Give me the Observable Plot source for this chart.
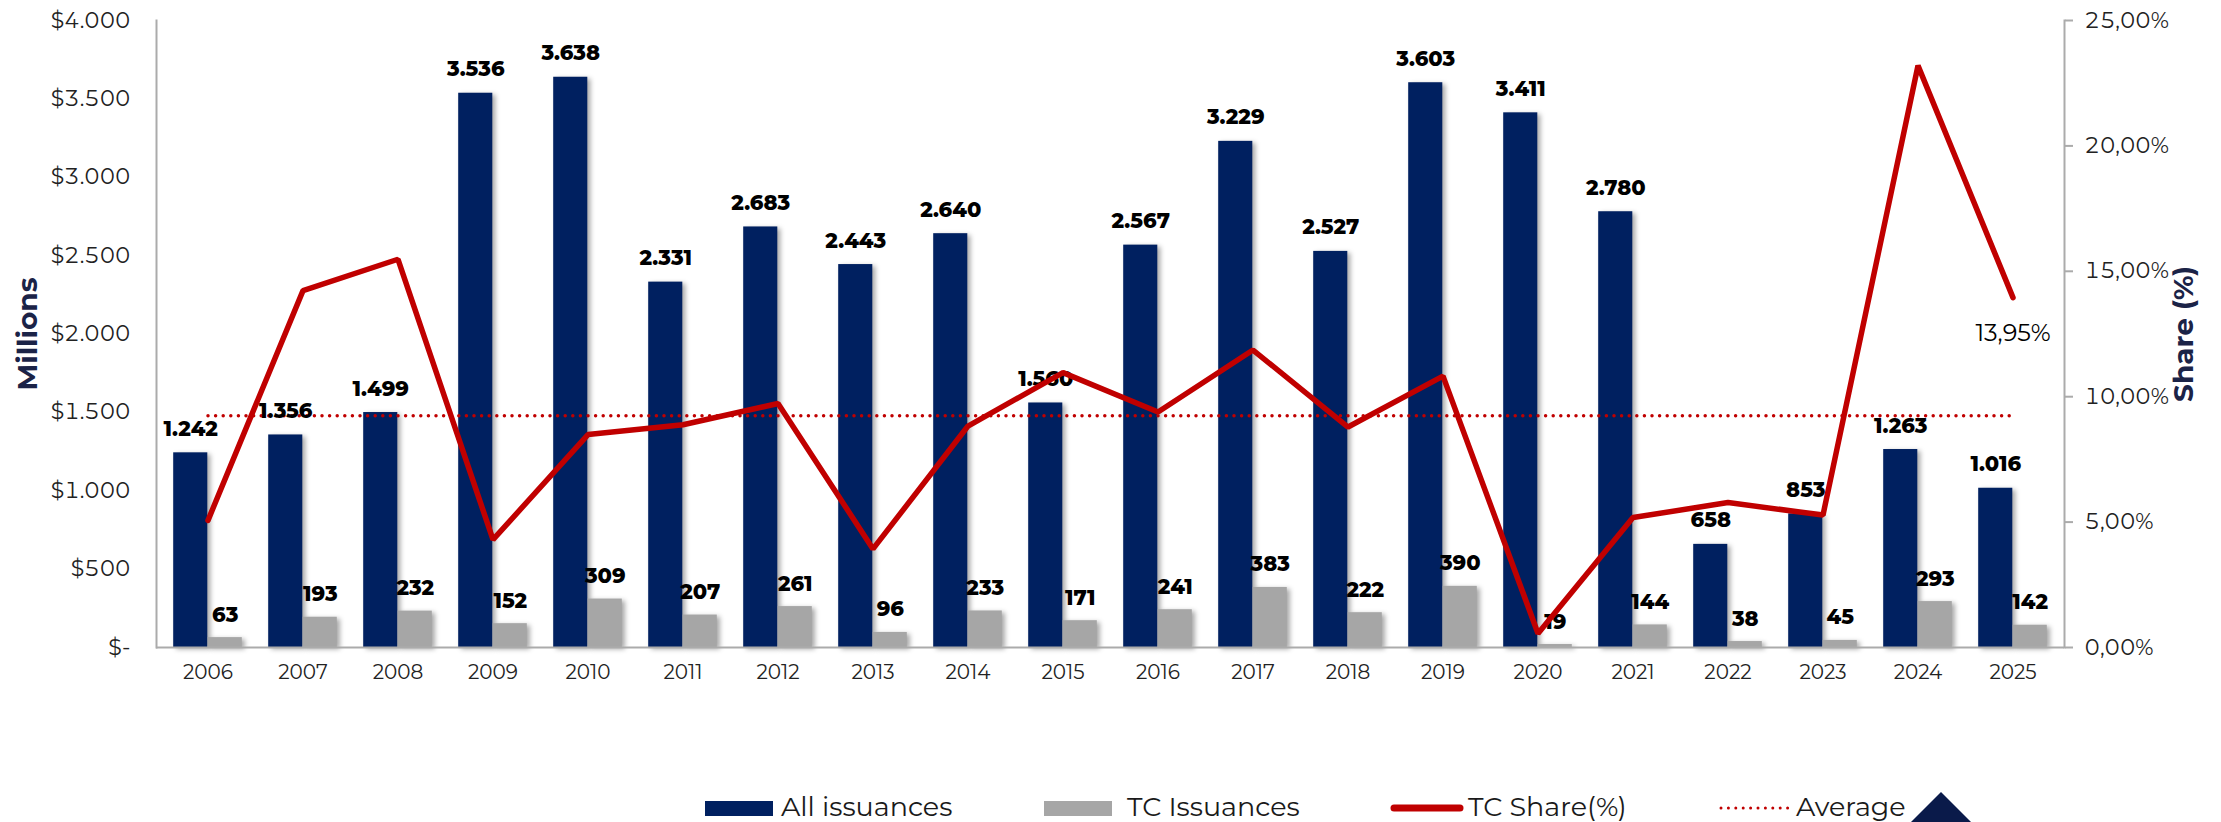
<!DOCTYPE html>
<html>
<head>
<meta charset="utf-8">
<script src="https://cdn.jsdelivr.net/npm/d3@7"></script>
<script src="https://cdn.jsdelivr.net/npm/@observablehq/plot@0.6"></script>
<style>
html, body { margin: 0; padding: 0; background: #fff; overflow: hidden; }
#chart { width: 2221px; height: 822px; position: relative; }
#chart svg { display: block; }
</style>
</head>
<body>
<div id="chart"></div>
<script>
// ---- data ----
const years = ["2006","2007","2008","2009","2010","2011","2012","2013","2014","2015","2016","2017","2018","2019","2020","2021","2022","2023","2024","2025"];
const allIssuances = [1242,1356,1499,3536,3638,2331,2683,2443,2640,1560,2567,3229,2527,3603,3411,2780,658,853,1263,1016];
const tcIssuances = [63,193,232,152,309,207,261,96,233,171,241,383,222,390,19,144,38,45,293,142];
const tcShare = [5.07,14.23,15.48,4.30,8.49,8.88,9.73,3.93,8.83,10.96,9.39,11.86,8.79,10.82,0.56,5.18,5.78,5.28,23.20,13.95];
const averageShare = 9.24;
const leftTicks = [0,500,1000,1500,2000,2500,3000,3500,4000];
const rightTicks = [0,5,10,15,20,25];
const leftMax = 4000, rightMax = 25;
const legendLabels = ["All issuances","TC Issuances","TC Share(%)","Average"];

// ---- layout ----
const W = 2221, H = 760, mL = 156, mR = 157, mT = 20, mB = 113;
const bw = (W - mL - mR) / years.length;
const barW = 34.5;
const K = leftMax / rightMax;
const navy = "#002060", gray = "#A6A6A6", red = "#C00000", axisGray = "#ABABAB", titleNavy = "#1B2347";
const font = "Montserrat, 'Open Sans', sans-serif";

const loc = d3.formatLocale({decimal: ",", thousands: ".", grouping: [3], currency: ["$", ""]});
const fmtInt = loc.format(",d");
const fmtPct = loc.format(".2f");

const rows = years.map((year, i) => ({year, all: allIssuances[i], tc: tcIssuances[i], share: tcShare[i]}));
const last = rows[rows.length - 1];

const plot = Plot.plot({
  width: W, height: H,
  marginLeft: mL, marginRight: mR, marginTop: mT, marginBottom: mB,
  style: {fontFamily: font, background: "#fff", overflow: "visible"},
  x: {type: "band", domain: years, padding: 0, label: null},
  y: {domain: [0, leftMax], label: null},
  marks: [
    Plot.barY(rows, {x: "year", y: "all", fill: navy, insetLeft: bw / 2 - barW, insetRight: bw / 2}),
    Plot.barY(rows, {x: "year", y: "tc", fill: gray, insetLeft: bw / 2, insetRight: bw / 2 - barW}),
    Plot.ruleY([0], {stroke: axisGray, strokeWidth: 2}),
    Plot.frame({anchor: "left", stroke: axisGray, strokeWidth: 2}),
    Plot.frame({anchor: "right", stroke: axisGray, strokeWidth: 2}),
    Plot.axisY(leftTicks, {anchor: "left", tickSize: 0, tickPadding: 26, fontSize: 22, fill: "#222",
      tickFormat: d => d === 0 ? "$-" : "$" + fmtInt(d)}),
    Plot.axisY(rightTicks.map(p => p * K), {anchor: "right", tickSize: 8, tickPadding: 12, stroke: axisGray, strokeWidth: 2,
      fontSize: 22, fill: "#222", tickFormat: d => fmtPct(d / K) + "%"}),
    Plot.axisX({tickSize: 0, tickPadding: 17, fontSize: 20, fill: "#222"}),
    Plot.line(rows, {x: "year", y: () => averageShare * K, stroke: red, strokeWidth: 3.5, strokeDasharray: "0 7.6", strokeLinecap: "round"}),
    Plot.text(rows, {x: "year", y: "all", text: d => fmtInt(d.all), dx: -barW / 2, dy: -17, lineAnchor: "bottom",
      fontSize: 21, fontWeight: 800, fill: "#000"}),
    Plot.text(rows, {x: "year", y: "tc", text: d => fmtInt(d.tc), dx: barW / 2, dy: -16, lineAnchor: "bottom",
      fontSize: 21, fontWeight: 800, fill: "#000"}),
    Plot.line(rows, {x: "year", y: d => d.share * K, stroke: red, strokeWidth: 5.5, strokeLinecap: "round", strokeLinejoin: "miter"}),
    Plot.text([last], {x: "year", y: d => d.share * K, text: d => fmtPct(d.share) + "%", dy: 36, fontSize: 24, fill: "#000"}),
    Plot.text(["Millions"], {frameAnchor: "left", textAnchor: "middle", dx: -128.5, rotate: -90, fontSize: 28, fontWeight: 700, fill: titleNavy}),
    Plot.text(["Share (%)"], {frameAnchor: "right", textAnchor: "middle", dx: 120, rotate: -90, fontSize: 28, fontWeight: 700, fill: titleNavy})
  ]
});

plot.querySelectorAll('g[aria-label="bar"]').forEach(g => {
  g.style.filter = "drop-shadow(3px 2px 2.5px rgba(0,0,0,0.35))";
});

const chart = document.getElementById("chart");
chart.appendChild(plot);

// ---- legend ----
const ns = "http://www.w3.org/2000/svg";
const lg = document.createElementNS(ns, "svg");
lg.setAttribute("width", W);
lg.setAttribute("height", 62);
lg.style.display = "block";
lg.style.fontFamily = font;
function el(tag, attrs, text) {
  const e = document.createElementNS(ns, tag);
  for (const k in attrs) e.setAttribute(k, attrs[k]);
  if (text) e.textContent = text;
  lg.appendChild(e);
  return e;
}
const textAttrs = {"font-size": 27, fill: "#1a1a1a", y: 56};
el("rect", {x: 705, y: 41, width: 68, height: 15, fill: navy});
el("text", {...textAttrs, x: 781}, legendLabels[0]);
el("rect", {x: 1044, y: 41, width: 68, height: 15, fill: gray});
el("text", {...textAttrs, x: 1127}, legendLabels[1]);
el("line", {x1: 1394, x2: 1460, y1: 48, y2: 48, stroke: red, "stroke-width": 7, "stroke-linecap": "round"});
el("text", {...textAttrs, x: 1468}, legendLabels[2]);
el("line", {x1: 1721, x2: 1788, y1: 48, y2: 48, stroke: red, "stroke-width": 3, "stroke-dasharray": "0 7.4", "stroke-linecap": "round"});
el("text", {...textAttrs, x: 1796}, legendLabels[3]);
el("polygon", {points: "1941,32 1975,66 1907,66", fill: "#0A1A4A"});
chart.appendChild(lg);
</script>
</body>
</html>
